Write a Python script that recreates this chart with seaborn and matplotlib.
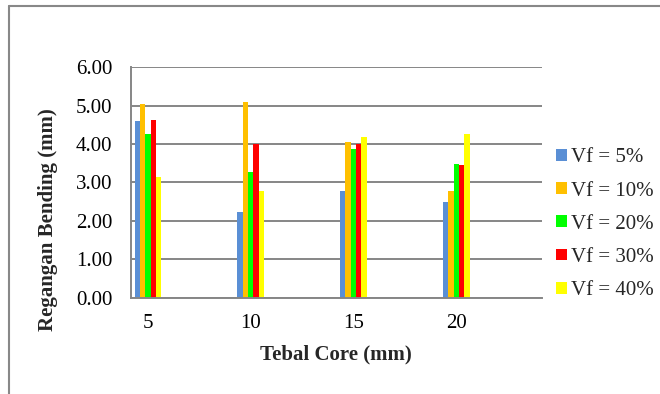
import matplotlib
matplotlib.use("Agg")
import matplotlib.pyplot as plt
from matplotlib.lines import Line2D
from matplotlib.ticker import FormatStrFormatter
import seaborn as sns
import pandas as pd

categories = ["5", "10", "15", "20"]
series = ["Vf = 5%", "Vf = 10%", "Vf = 20%", "Vf = 30%", "Vf = 40%"]
vf5 = [4.60, 2.24, 2.78, 2.49]
vf10 = [5.04, 5.10, 4.05, 2.78]
vf20 = [4.26, 3.27, 3.87, 3.49]
vf30 = [4.62, 3.99, 4.00, 3.45]
vf40 = [3.15, 2.77, 4.18, 4.26]
colors = ["#5A8FD5", "#FFC000", "#00FF00", "#FF0000", "#FFFF00"]

rows = []
for name, vals in zip(series, [vf5, vf10, vf20, vf30, vf40]):
    for c, v in zip(categories, vals):
        rows.append({"Tebal": c, "Seri": name, "Nilai": v})
df = pd.DataFrame(rows)

sns.set_theme(style="white")
plt.rcParams["font.family"] = ["Liberation Serif", "DejaVu Serif"]

fig = plt.figure(figsize=(6.6, 3.94), dpi=100)
ax = fig.add_axes([131 / 660, 1 - 297.7 / 394, 411 / 660, 230.4 / 394])

sns.barplot(data=df, x="Tebal", y="Nilai", hue="Seri", order=categories,
            hue_order=series, palette=colors, width=0.26, saturation=1,
            linewidth=0, ax=ax, legend=True)

ax.set_xlim(-0.165, 3.835)
ax.set_ylim(0, 6)
ax.set_yticks([0, 1, 2, 3, 4, 5, 6])
ax.yaxis.set_major_formatter(FormatStrFormatter("%.2f"))
ax.grid(axis="y", color="#868686", linewidth=1.4)
ax.set_axisbelow(True)
for s in ["top", "right"]:
    ax.spines[s].set_visible(False)
for s in ["left", "bottom"]:
    ax.spines[s].set_color("#868686")
    ax.spines[s].set_linewidth(1.4)
ax.tick_params(axis="both", length=0, labelsize=15, colors="black")
ax.tick_params(axis="y", pad=13.5)
ax.tick_params(axis="x", pad=12)

ax.set_xlabel("Tebal Core (mm)", fontsize=15, fontweight="bold")
ax.set_ylabel("Regangan Bending (mm)", fontsize=15, fontweight="bold")
ax.xaxis.set_label_coords(335.5 / 660, 1 - 344 / 394, transform=fig.transFigure)
ax.yaxis.set_label_coords(57.5 / 660, 1 - 220 / 394, transform=fig.transFigure)

handles, labels = ax.get_legend_handles_labels()
ax.legend_.remove()
fig.legend(handles, labels, loc="upper left",
           bbox_to_anchor=(548 / 660, 1 - 140 / 394), frameon=False,
           fontsize=15, handlelength=0.5, handleheight=0.5,
           handletextpad=0.22, labelspacing=0.68, borderaxespad=0)

fc = "#888888"
fig.add_artist(Line2D([9 / 660, 9 / 660], [0, 1 - 5.5 / 394], color=fc, lw=1.5,
                      transform=fig.transFigure))
fig.add_artist(Line2D([9 / 660, 1], [1 - 5.5 / 394, 1 - 5.5 / 394], color=fc, lw=1.5,
                      transform=fig.transFigure))

fig.savefig("out.png", dpi=100)
